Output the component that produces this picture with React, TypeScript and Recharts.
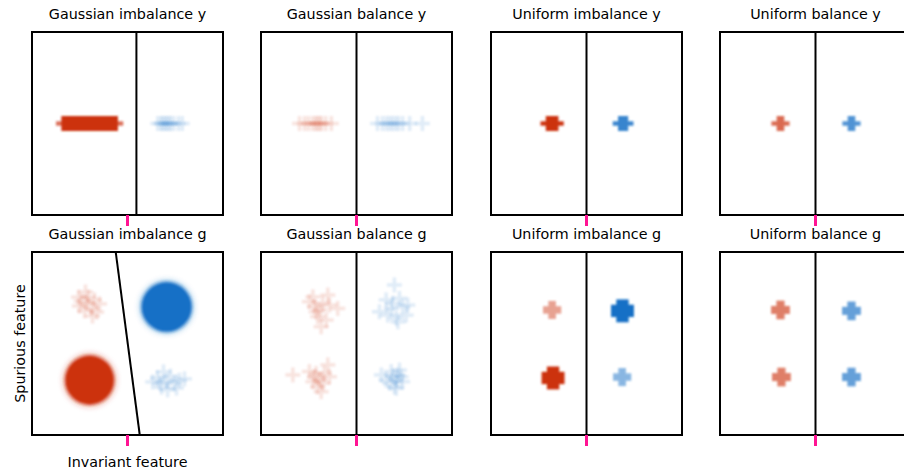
import React from 'react';
import { ScatterChart, Scatter, XAxis, YAxis, ReferenceArea, ReferenceLine } from 'recharts';

// ---------- data ----------
const panelTitles = [
  'Gaussian imbalance y',
  'Gaussian balance y',
  'Uniform imbalance y',
  'Uniform balance y',
  'Gaussian imbalance g',
  'Gaussian balance g',
  'Uniform imbalance g',
  'Uniform balance g',
];
const xAxisLabel = 'Invariant feature';
const yAxisLabel = 'Spurious feature';
const xTicks = [0];
const domain: [number, number] = [-3, 3];

// decision boundary: x at top (y=3) and at bottom (y=-3)
const boundaryTop = [0.28, 0, 0, 0, -0.37, 0, 0, 0];
const boundaryBottom = [0.28, 0, 0, 0, 0.385, 0, 0, 0];

// dense clusters: centre, half-range of the points, relative density
const gaussImbYBlobs = [{ cls: 'red', kind: 'gauss', x: -1.19, y: 0, rx: 0.82, ry: 0, density: 1 }];
const unifImbYBlobs = [
  { cls: 'red', kind: 'uniform', x: -1.08, y: 0, rx: 0.13, ry: 0, density: 1 },
  { cls: 'blue', kind: 'uniform', x: 1.15, y: 0, rx: 0.09, ry: 0, density: 0.85 },
];
const unifBalYBlobs = [
  { cls: 'red', kind: 'uniform', x: -1.1, y: 0, rx: 0.05, ry: 0, density: 0.72 },
  { cls: 'blue', kind: 'uniform', x: 1.13, y: 0, rx: 0.05, ry: 0, density: 0.75 },
];
const gaussImbGBlobs = [
  { cls: 'red', kind: 'gauss', x: -1.19, y: -1.2, rx: 0.66, ry: 0.69, density: 1 },
  { cls: 'blue', kind: 'gauss', x: 1.23, y: 1.2, rx: 0.68, ry: 0.7, density: 1 },
];
const unifImbGBlobs = [
  { cls: 'red', kind: 'uniform', x: -1.05, y: -1.13, rx: 0.125, ry: 0.13, density: 1 },
  { cls: 'blue', kind: 'uniform', x: 1.13, y: 1.07, rx: 0.125, ry: 0.13, density: 1 },
  { cls: 'red', kind: 'uniform', x: -1.08, y: 1.1, rx: 0.05, ry: 0.05, density: 0.45 },
  { cls: 'blue', kind: 'uniform', x: 1.12, y: -1.1, rx: 0.05, ry: 0.05, density: 0.5 },
];
const unifBalGBlobs = [
  { cls: 'red', kind: 'uniform', x: -1.1, y: 1.1, rx: 0.06, ry: 0.06, density: 0.62 },
  { cls: 'red', kind: 'uniform', x: -1.07, y: -1.1, rx: 0.06, ry: 0.06, density: 0.62 },
  { cls: 'blue', kind: 'uniform', x: 1.13, y: 1.07, rx: 0.06, ry: 0.06, density: 0.66 },
  { cls: 'blue', kind: 'uniform', x: 1.13, y: -1.1, rx: 0.06, ry: 0.06, density: 0.66 },
];

// sparse samples (1-D, y = 0)
const gaussImbYBlueX = [0.95, 1.05, 1.1, 1.18, 1.22, 1.3, 1.35, 1.45, 1.6, 1.72];
const gaussBalYRedX = [-1.79, -1.63, -1.51, -1.38, -1.29, -1.23, -1.16, -1.1, -0.97, -0.79];
const gaussBalYBlueX = [0.66, 0.82, 0.94, 1.04, 1.13, 1.23, 1.32, 1.45, 1.67, 2.07];

// sparse samples (2-D)
const gaussImbGRed = [
  [-1.26, 1.33], [-1.51, 1.23], [-1.04, 1.43], [-1.35, 1.07], [-1.13, 1.16], [-1.54, 1.52],
  [-0.88, 1.3], [-1.32, 1.69], [-1.1, 0.9], [-1.45, 1.39], [-0.97, 1.03], [-1.23, 1.52],
];
const gaussImbGBlue = [
  [1.23, -1.23], [0.94, -1.13], [1.48, -1.3], [1.07, -1.43], [1.35, -1.07], [1.63, -1.2],
  [0.79, -1.26], [1.13, -0.93], [1.26, -1.52], [1.54, -1.46], [1.01, -1.3], [1.79, -1.16],
];
const gaussBalGRed = [
  [-1.48, 1.37], [-1.32, 1.21], [-1.16, 1.1], [-1.22, 0.88], [-0.9, 1.59], [-0.85, 1.26],
  [-0.59, 1.15], [-0.95, 0.77], [-1.11, 0.55], [-1.37, 1.53], [-1.06, 1.32], [-1.27, 1.04],
  [-2.0, -1.03], [-1.48, -0.92], [-1.32, -1.09], [-1.16, -1.2], [-1.01, -0.98], [-0.9, -0.7],
  [-1.22, -1.42], [-1.11, -1.58], [-1.37, -1.25], [-0.85, -1.09], [-1.06, -1.3], [-1.27, -0.98],
];
const gaussBalGBlue = [
  [1.19, 1.92], [0.93, 1.43], [1.35, 1.48], [1.09, 1.15], [1.45, 1.21], [0.72, 1.04],
  [1.61, 1.26], [1.25, 0.83], [1.3, 0.71], [0.98, 0.93], [1.56, 0.93], [1.14, 1.32],
  [0.78, -1.03], [1.09, -0.92], [1.25, -1.2], [1.35, -0.87], [1.19, -1.42], [1.45, -1.25],
  [0.93, -1.2], [1.14, -1.09], [1.3, -1.03], [1.04, -1.3], [1.4, -1.09], [1.25, -1.47],
];

// ---------- layout & style ----------
const RED = '#cc3311';
const BLUE = '#1670c6';
const PINK = '#ff1493';
const FONT = '"DejaVu Sans", sans-serif';
const PW = 191;
const PH = 183;
const KX = PW / (domain[1] - domain[0]);
const KY = PH / (domain[1] - domain[0]);
const ARM = 7.5;
const HALF = 2.2;
const PAD = 2;
const AXIS_H = 14;
const colLefts = [32, 261, 491, 720];
const rowTops = [32, 252];

const colorOf = (cls: string) => (cls === 'red' ? RED : BLUE);
const line1D = (xs: number[]) => xs.map((x) => ({ x, y: 0 }));
const pts2D = (ps: number[][]) => ps.map(([x, y]) => ({ x, y }));

const panelBlobs: any[][] = [gaussImbYBlobs, [], unifImbYBlobs, unifBalYBlobs, gaussImbGBlobs, [], unifImbGBlobs, unifBalGBlobs];
const panelRed: any[][] = [[], line1D(gaussBalYRedX), [], [], pts2D(gaussImbGRed), pts2D(gaussBalGRed), [], []];
const panelBlue: any[][] = [line1D(gaussImbYBlueX), line1D(gaussBalYBlueX), [], [], pts2D(gaussImbGBlue), pts2D(gaussBalGBlue), [], []];

function Blob(props: any) {
  const { cx, cy, payload } = props;
  if (cx == null || cy == null) return null;
  const color = colorOf(payload.cls);
  const rx = payload.rx * KX;
  const ry = payload.ry * KY;
  if (payload.kind === 'gauss' && payload.ry > 0) {
    return (
      <g>
        <g filter="url(#bl20)">
          <ellipse cx={cx} cy={cy} rx={rx + ARM} ry={ry + ARM} fill={color} opacity={payload.density * 0.16} />
        </g>
        <g filter="url(#bl10)">
          <ellipse cx={cx} cy={cy} rx={rx + HALF + 3} ry={ry + HALF + 3} fill={color} opacity={payload.density * 0.4} />
          <ellipse cx={cx} cy={cy} rx={rx + HALF + 0.8} ry={ry + HALF + 0.8} fill={color} opacity={payload.density} />
        </g>
      </g>
    );
  }
  const f = payload.kind === 'gauss' ? 'bl13' : payload.density < 0.9 ? 'bl13' : 'bl09';
  return (
    <g filter={`url(#${f})`} opacity={payload.density}>
      <rect x={cx - rx - ARM} y={cy - ry - HALF} width={2 * (rx + ARM)} height={2 * (ry + HALF)} fill={color} opacity={payload.kind === 'gauss' ? 0.7 : 1} />
      <rect x={cx - rx - HALF} y={cy - ry - ARM} width={2 * (rx + HALF)} height={2 * (ry + ARM)} fill={color} />
    </g>
  );
}

function Plus(props: any) {
  const { cx, cy, color } = props;
  if (cx == null || cy == null) return null;
  return (
    <g opacity={0.13} filter="url(#bl09)">
      <rect x={cx - ARM} y={cy - HALF * 0.8} width={2 * ARM} height={2 * HALF * 0.8} fill={color} />
      <rect x={cx - HALF * 0.8} y={cy - ARM} width={2 * HALF * 0.8} height={2 * ARM} fill={color} />
    </g>
  );
}

const NoLabel = () => <g />;

function Panel({ i }: { i: number }) {
  const row = Math.floor(i / 4);
  const col = i % 4;
  return (
    <div style={{ position: 'absolute', left: colLefts[col] - PAD, top: rowTops[row] - PAD }}>
      <ScatterChart
        width={PW + 2 * PAD}
        height={PH + PAD + AXIS_H}
        margin={{ top: PAD, right: PAD, bottom: 0, left: PAD }}
      >
        <XAxis
          type="number"
          dataKey="x"
          domain={domain}
          allowDataOverflow
          ticks={xTicks}
          tick={NoLabel}
          tickLine={{ stroke: PINK, strokeWidth: 3 }}
          tickSize={11}
          axisLine={false}
          height={AXIS_H}
        />
        <YAxis type="number" dataKey="y" domain={domain} allowDataOverflow hide />
        <Scatter data={panelBlobs[i]} shape={(p: any) => <Blob {...p} />} isAnimationActive={false} />
        <Scatter data={panelRed[i]} shape={(p: any) => <Plus {...p} color={RED} />} isAnimationActive={false} />
        <Scatter data={panelBlue[i]} shape={(p: any) => <Plus {...p} color={BLUE} />} isAnimationActive={false} />
        <ReferenceLine
          segment={[{ x: boundaryTop[i], y: domain[1] }, { x: boundaryBottom[i], y: domain[0] }]}
          stroke="#000"
          strokeWidth={2}
          ifOverflow="visible"
        />
        <ReferenceArea
          x1={domain[0]}
          x2={domain[1]}
          y1={domain[0]}
          y2={domain[1]}
          fill="none"
          fillOpacity={0}
          stroke="#000"
          strokeWidth={2}
          ifOverflow="visible"
        />
      </ScatterChart>
    </div>
  );
}

export default function App() {
  return (
    <div
      style={{
        position: 'absolute',
        left: 0,
        top: 0,
        width: 904,
        height: 473,
        background: '#fff',
        overflow: 'hidden',
      }}
    >
      <svg width={0} height={0} style={{ position: 'absolute' }}>
        <defs>
          {[
            ['bl09', 0.9],
            ['bl10', 1.0],
            ['bl13', 1.3],
            ['bl20', 2.0],
          ].map(([id, s]) => (
            <filter key={id as string} id={id as string} x="-50%" y="-50%" width="200%" height="200%">
              <feGaussianBlur stdDeviation={s as number} />
            </filter>
          ))}
        </defs>
      </svg>
      {panelTitles.map((_, i) => (
        <Panel key={i} i={i} />
      ))}
      <svg width={904} height={473} style={{ position: 'absolute', left: 0, top: 0, pointerEvents: 'none' }}>
        {panelTitles.map((t, i) => {
          const row = Math.floor(i / 4);
          const col = i % 4;
          return (
            <text
              key={t}
              x={colLefts[col] + PW / 2}
              y={row === 0 ? 18.7 : 238.7}
              textAnchor="middle"
              fontFamily={FONT}
              fontSize={14.3}
              fill="#000"
            >
              {t}
            </text>
          );
        })}
        <text x={colLefts[0] + PW / 2} y={466.7} textAnchor="middle" fontFamily={FONT} fontSize={14.3} fill="#000">
          {xAxisLabel}
        </text>
        <text
          x={0}
          y={0}
          transform={`translate(25, ${rowTops[1] + PH / 2}) rotate(-90)`}
          textAnchor="middle"
          fontFamily={FONT}
          fontSize={14.3}
          fill="#000"
        >
          {yAxisLabel}
        </text>
      </svg>
    </div>
  );
}
